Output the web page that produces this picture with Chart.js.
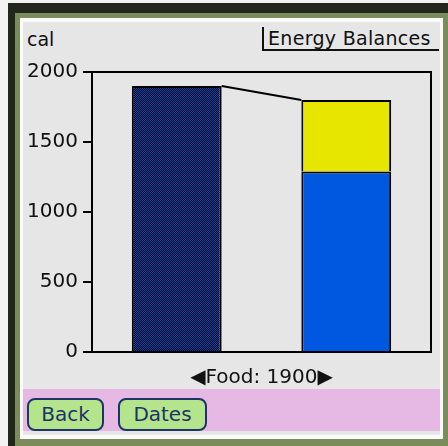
<!DOCTYPE html>
<html>
<head>
<meta charset="utf-8">
<script src="https://cdn.jsdelivr.net/npm/chart.js@4"></script>
<style>
  html, body { margin: 0; padding: 0; }
  body { width: 448px; height: 446px; position: relative; overflow: hidden; background: #f2f2f2; font-family: "DejaVu Sans", sans-serif; }
  .box { position: absolute; }
  #shade { left: 8px; top: 3px; width: 440px; height: 443px; background: #23261f; }
  #rim { left: 15px; top: 13px; width: 433px; height: 433px; background: #7b8c5c; }
  #edge { left: 20px; top: 18px; width: 423px; height: 421px; background: #fafafa; }
  #screen { left: 23px; top: 22px; width: 417px; height: 413px; background: #e6e6e6; }
  #band { left: 23px; top: 389px; width: 417px; height: 42px; background: #e6b8e4; }
  #unit { left: 27px; top: 28px; font-size: 19px; color: #111; }
  #title { left: 262px; top: 27px; width: 171px; height: 22px; border-left: 2px solid #111; border-bottom: 2px solid #111;
           font-size: 19px; line-height: 22px; color: #111; padding-left: 4px; letter-spacing: 0.3px; white-space: nowrap; }
  .btn { top: 398px; height: 29px; border: 2px solid #1c3466; border-radius: 8px; background: #b4e48c;
         color: #1c3466; font-size: 20px; line-height: 29px; text-align: center; }
  #back { left: 27px; width: 73px; }
  #dates { left: 118px; width: 85px; }
  #chart { position: absolute; left: 0; top: 0; }
</style>
</head>
<body>
<div class="box" id="shade"></div>
<div class="box" id="rim"></div>
<div class="box" id="edge"></div>
<div class="box" id="screen"></div>
<div class="box" id="band"></div>
<div class="box" id="unit">cal</div>
<div class="box" id="title">Energy Balances</div>
<div class="box btn" id="back">Back</div>
<div class="box btn" id="dates">Dates</div>
<canvas id="chart" width="448" height="446"></canvas>
<script>
// values
const categories = ["Food", "Expenditure"];
const foodValues = [1900, null];
const basalValues = [null, 1290];
const activityValues = [null, 510];
const yTicks = [0, 500, 1000, 1500, 2000];
const xTitle = "\u25C0Food: 1900\u25B6";

const canvas = document.getElementById("chart");
const ctx = canvas.getContext("2d");

// dithered dark blue fill of the food bar
function ditherPattern() {
  const tile = document.createElement("canvas");
  tile.width = 2;
  tile.height = 2;
  const t = tile.getContext("2d");
  t.fillStyle = "#000616";
  t.fillRect(0, 0, 2, 2);
  t.fillStyle = "#0644b0";
  t.fillRect(0, 0, 1, 1);
  t.fillRect(1, 1, 1, 1);
  return ctx.createPattern(tile, "repeat");
}

const font = { family: "DejaVu Sans", size: 20 };

// top/right sides of the plot frame and the line joining the two bar tops
const framePlugin = {
  id: "frame",
  afterDatasetsDraw(chart) {
    const a = chart.chartArea;
    const c = chart.ctx;
    c.save();
    c.strokeStyle = "#000";
    c.lineWidth = 2;
    c.beginPath();
    c.moveTo(a.left, a.top);
    c.lineTo(a.right, a.top);
    c.lineTo(a.right, a.bottom);
    c.stroke();
    const food = chart.getDatasetMeta(0).data[0];
    const top = chart.getDatasetMeta(2).data[1];
    if (food && top) {
      c.beginPath();
      c.moveTo(food.x + food.width / 2, food.y);
      c.lineTo(top.x - top.width / 2, top.y);
      c.stroke();
    }
    c.restore();
  }
};

new Chart(canvas, {
  type: "bar",
  data: {
    labels: categories,
    datasets: [
      { label: "Food", data: foodValues, backgroundColor: ditherPattern(), borderColor: "#000", borderWidth: 2 },
      { label: "Basal", data: basalValues, backgroundColor: "#0058e0", borderColor: "#000", borderWidth: 2 },
      { label: "Activity", data: activityValues, backgroundColor: "#e6e600", borderColor: "#000", borderWidth: 2 }
    ]
  },
  options: {
    responsive: false,
    animation: false,
    devicePixelRatio: 1,
    layout: { padding: { left: 0, right: 17, top: 72, bottom: 56 } },
    datasets: { bar: { barPercentage: 0.53, categoryPercentage: 1 } },
    plugins: { legend: { display: false }, tooltip: { enabled: false } },
    scales: {
      x: {
        stacked: true,
        grid: { display: false },
        border: { display: true, color: "#000", width: 2 },
        ticks: { display: false },
        title: { display: true, text: xTitle, color: "#111", font: font, padding: { top: 6, bottom: 0 } }
      },
      y: {
        stacked: true,
        min: 0,
        max: 2000,
        afterBuildTicks: s => { s.ticks = yTicks.map(v => ({ value: v })); },
        afterFit: s => { s.width = 92; },
        grid: { drawOnChartArea: false, drawTicks: true, tickLength: 9, color: "#000", lineWidth: 2 },
        border: { color: "#000", width: 2 },
        ticks: { color: "#111", font: font, padding: 5, callback: v => String(v) }
      }
    }
  },
  plugins: [framePlugin]
});
</script>
</body>
</html>
